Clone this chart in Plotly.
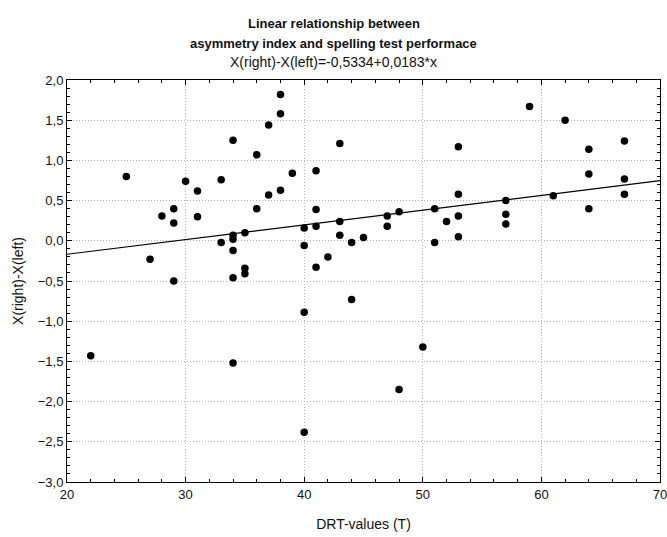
import plotly.graph_objects as go

# DRT T-values and asymmetry index X(right)-X(left)
drt = [22, 25, 27, 28, 29, 29, 29, 30, 31, 31, 33, 33,
       34, 34, 34, 34, 34, 34, 35, 35, 35, 36, 36,
       37, 37, 38, 38, 38, 39, 40, 40, 40, 40,
       41, 41, 41, 41, 42, 43, 43, 43, 44, 44, 45,
       47, 47, 48, 48, 50, 51, 51, 52, 53, 53, 53, 53,
       57, 57, 57, 59, 61, 62, 64, 64, 64, 67, 67, 67]
asym = [-1.43, 0.80, -0.23, 0.31, 0.40, 0.22, -0.50, 0.74, 0.62, 0.30, 0.76, -0.02,
        1.25, 0.07, 0.02, -0.12, -0.46, -1.52, 0.10, -0.34, -0.41, 1.07, 0.40,
        1.44, 0.57, 1.82, 1.58, 0.63, 0.84, 0.16, -0.06, -0.89, -2.38,
        0.87, 0.39, 0.18, -0.33, -0.20, 1.21, 0.24, 0.07, -0.02, -0.73, 0.04,
        0.31, 0.18, 0.36, -1.85, -1.32, 0.40, -0.02, 0.24, 1.17, 0.58, 0.31, 0.05,
        0.50, 0.33, 0.21, 1.67, 0.56, 1.50, 1.14, 0.83, 0.40, 1.24, 0.77, 0.58]

# fitted line coefficients
intercept = -0.5334
slope = 0.0183
x_range = [20, 70]
y_range = [-3.0, 2.0]

title_lines = ["Linear relationship between",
               "asymmetry index and spelling test performace"]
subtitle = "X(right)-X(left)=-0,5334+0,0183*x"

fit_x = x_range
fit_y = [intercept + slope * v for v in fit_x]

font = "Liberation Sans, Arial, sans-serif"

fig = go.Figure()
fig.add_trace(go.Scatter(x=fit_x, y=fit_y, mode="lines",
                         line=dict(color="black", width=1.2),
                         hoverinfo="skip", showlegend=False))
fig.add_trace(go.Scatter(x=drt, y=asym, mode="markers",
                         marker=dict(color="black", size=7.5),
                         showlegend=False))

axis_common = dict(
    showline=True, linecolor="black", linewidth=1, mirror="allticks",
    ticks="inside", ticklen=5, tickcolor="black", tickwidth=1,
    showgrid=True, gridcolor="#b4b4b4", griddash="1px,2px", gridwidth=1,
    zeroline=False, automargin=False, ticklabeloverflow="allow",
    tickfont=dict(family=font, size=13, color="#111111"),
)

fig.update_xaxes(range=x_range, dtick=10, tickformat="d",
                 minor=dict(dtick=2, ticks="inside", ticklen=3, tickcolor="black", showgrid=False),
                 title=dict(text="DRT-values (T)", font=dict(family=font, size=14, color="#111111"),
                            standoff=18),
                 **axis_common)
fig.update_yaxes(range=y_range, dtick=0.5, tickformat=".1f",
                 minor=dict(dtick=0.1, ticks="inside", ticklen=3, tickcolor="black", showgrid=False),
                 title=dict(text="X(right)-X(left)", font=dict(family=font, size=14, color="#111111"),
                            standoff=10),
                 **axis_common)

# title lines centred on the whole figure
for text, ypix, size, bold in [(title_lines[0], 23, 13, True),
                               (title_lines[1], 43, 13, True),
                               (subtitle, 62, 14, False)]:
    fig.add_annotation(text=f"<b>{text}</b>" if bold else text,
                       xref="paper", yref="paper",
                       x=(333.5 - 67) / (660 - 67), y=1.0,
                       yshift=80 - ypix, yanchor="middle", xanchor="center",
                       showarrow=False, font=dict(family=font, size=size, color="#111111"))

fig.update_layout(
    width=667, height=537,
    margin=dict(l=67, r=7, t=80, b=55),
    plot_bgcolor="white", paper_bgcolor="white",
    separators=", ",
    font=dict(family=font, size=12, color="#111111"),
)

fig.write_html("out.html")
